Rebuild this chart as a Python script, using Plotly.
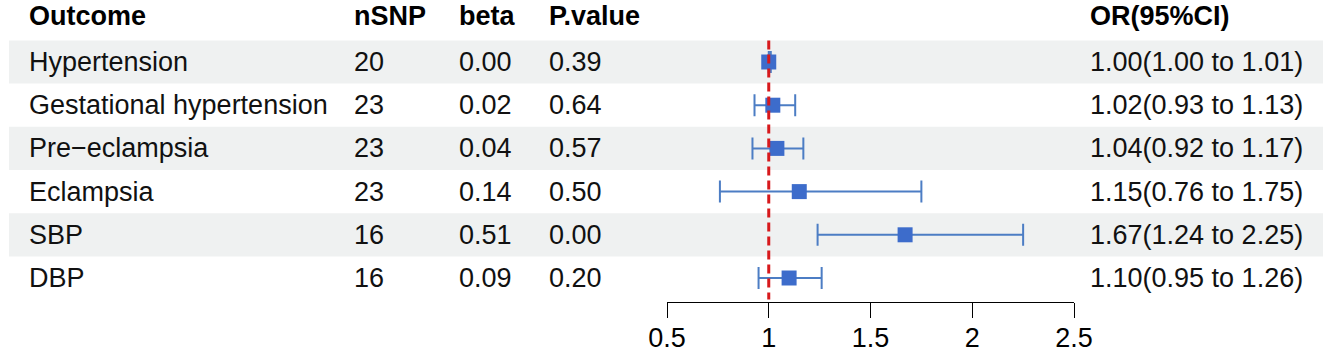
import plotly.graph_objects as go

outcomes = ["Hypertension", "Gestational hypertension", "Pre\u2212eclampsia", "Eclampsia", "SBP", "DBP"]
nsnp = ["20", "23", "23", "23", "16", "16"]
beta = ["0.00", "0.02", "0.04", "0.14", "0.51", "0.09"]
pvalue = ["0.39", "0.64", "0.57", "0.50", "0.00", "0.20"]
or_est = [1.00, 1.02, 1.04, 1.15, 1.67, 1.10]
or_low = [1.00, 0.93, 0.92, 0.76, 1.24, 0.95]
or_high = [1.01, 1.13, 1.17, 1.75, 2.25, 1.26]
headers = ["Outcome", "nSNP", "beta", "P.value", "OR(95%CI)"]
xticks = [0.5, 1, 1.5, 2, 2.5]

W, H = 1334, 356
FONT = "Liberation Sans, Arial, sans-serif"
FS = 27
BAND = "#EFF1F1"
MARK = "#3D6CCB"
LINE = "#4C7DC4"
RED = "#D7191C"

rows = list(range(1, len(outcomes) + 1))
or_text = [f"{e:.2f}({l:.2f} to {h:.2f})" for e, l, h in zip(or_est, or_low, or_high)]

def px(x):
    return x / W

row0_px, row_h = 62, 43.2
y_top = (0 - row0_px) / row_h + 1
y_bot = (H - row0_px) / row_h + 1

fig = go.Figure()

shapes = []
for r in rows:
    if r % 2 == 1:
        shapes.append(dict(type="rect", xref="paper", yref="y", x0=px(9), x1=px(1323),
                           y0=r - 0.5, y1=r + 0.5, fillcolor=BAND, line=dict(width=0), layer="below"))
shapes.append(dict(type="line", xref="x", yref="y", x0=1, x1=1, y0=0.5, y1=len(rows) + 0.5,
                   line=dict(color=RED, width=3, dash="9px,5px"), layer="above"))

fig.add_trace(go.Scatter(
    x=or_est, y=rows, mode="markers",
    marker=dict(symbol="square", size=15, color=MARK, line=dict(width=0)),
    error_x=dict(type="data", symmetric=False,
                 array=[h - e for h, e in zip(or_high, or_est)],
                 arrayminus=[e - l for e, l in zip(or_est, or_low)],
                 color=LINE, thickness=2, width=11),
    showlegend=False, hoverinfo="skip",
))

annotations = []
col_x = [27, 352, 457, 547, 1088]
for cx, h in zip(col_x, headers):
    annotations.append(dict(xref="paper", yref="paper", x=px(cx), y=1 - 16 / H, text=f"<b>{h}</b>",
                            showarrow=False, xanchor="left", yanchor="middle",
                            font=dict(family=FONT, size=FS, color="black")))
for cols_vals, cx in zip([outcomes, nsnp, beta, pvalue, or_text], col_x):
    for r, v in zip(rows, cols_vals):
        annotations.append(dict(xref="paper", yref="y", x=px(cx), y=r, text=v,
                                showarrow=False, xanchor="left", yanchor="middle",
                                font=dict(family=FONT, size=FS, color="#111111")))

fig.update_layout(
    template="none",
    width=W, height=H, margin=dict(l=0, r=0, t=0, b=0, pad=0, autoexpand=False),
    paper_bgcolor="white", plot_bgcolor="rgba(0,0,0,0)",
    shapes=shapes, annotations=annotations,
    xaxis=dict(domain=[px(667), px(1074)], range=[0.5, 2.5], tickvals=xticks,
               ticktext=[str(t) for t in xticks], showline=True, linecolor="black", linewidth=1,
               ticks="outside", ticklen=15, tickwidth=1, tickcolor="black", automargin=False,
               ticklabelstandoff=-3,
               showgrid=False, zeroline=False, anchor="free", position=1 - 302 / H,
               tickfont=dict(family=FONT, size=FS, color="black")),
    yaxis=dict(domain=[0, 1], range=[y_bot, y_top], visible=False, showgrid=False,
               zeroline=False, automargin=False),
)

fig.write_html("out.html", config={"responsive": False, "displayModeBar": False},
               post_script="document.body.style.margin='0';document.body.style.overflow='hidden';")
